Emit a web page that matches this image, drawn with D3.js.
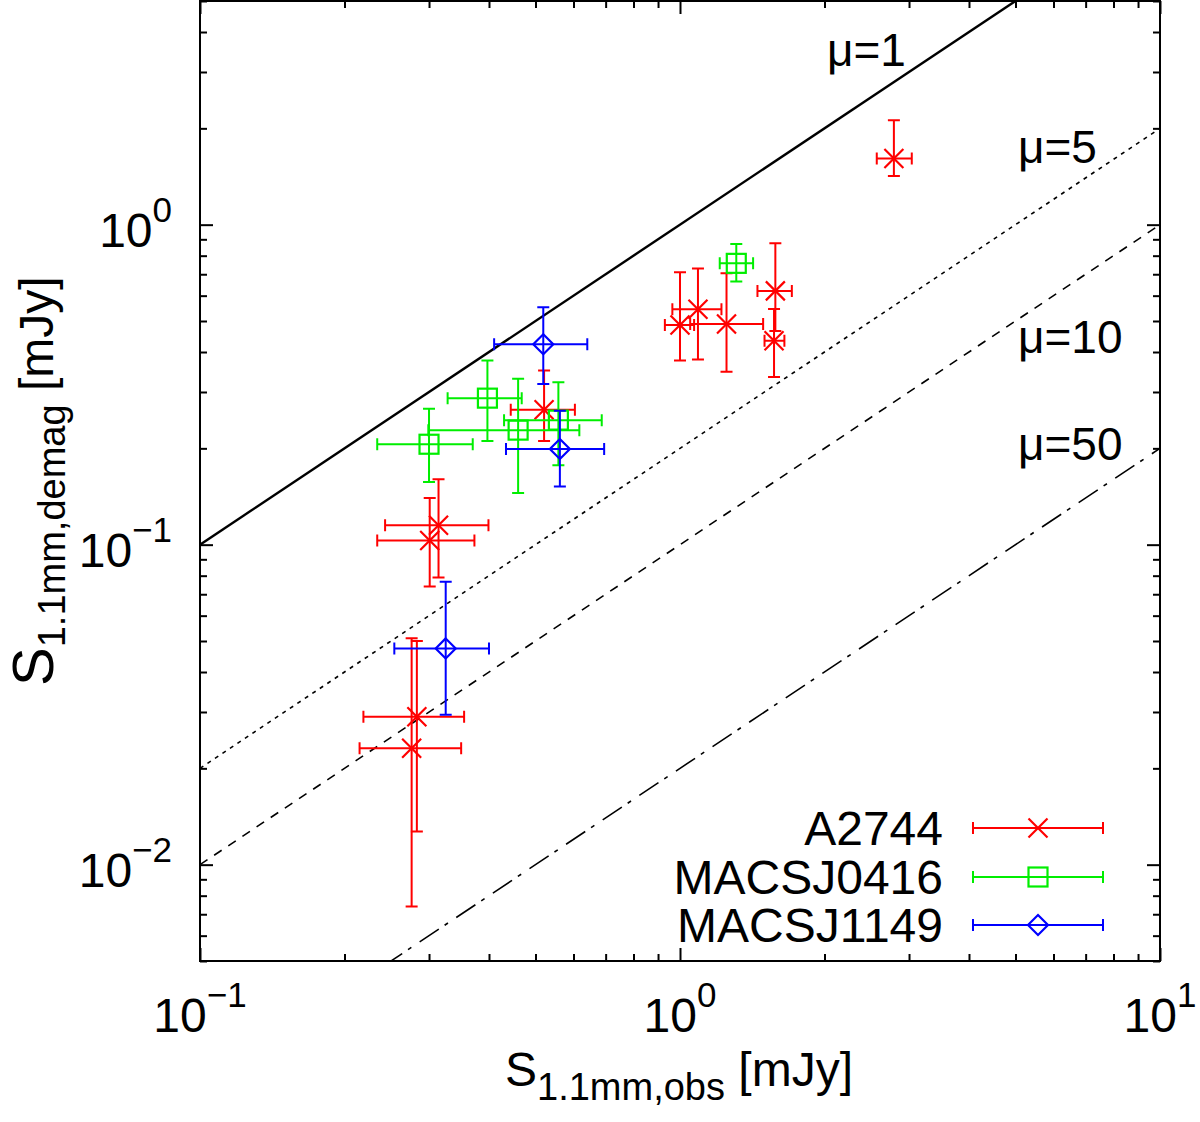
<!DOCTYPE html>
<html>
<head>
<meta charset="utf-8">
<script src="https://cdn.jsdelivr.net/npm/d3@7"></script>
<style>
  html, body { margin: 0; padding: 0; background: #fff; }
  svg { display: block; }
  text { font-family: "Liberation Sans", Arial, Helvetica, sans-serif; fill: #000; }
</style>
</head>
<body>
<div id="chart"></div>
<script>
// ---------------- DATA ----------------
const seriesNames = ["A2744", "MACSJ0416", "MACSJ1149"];
const seriesColors = ["#ff0000", "#00ee00", "#0000ff"];
const seriesMarkers = ["x", "square", "diamond"];

// A2744
const a2744_x   = [2.79, 1.00, 1.09, 1.25, 1.58, 1.57, 0.521, 0.314, 0.301, 0.283, 0.276];
const a2744_y   = [1.61, 0.486, 0.544, 0.489, 0.621, 0.434, 0.264, 0.115, 0.103, 0.029, 0.0231];
const a2744_xlo = [2.57, 0.93, 0.964, 1.05, 1.45, 1.50, 0.444, 0.243, 0.234, 0.219, 0.215];
const a2744_xhi = [3.04, 1.07, 1.22, 1.49, 1.71, 1.65, 0.604, 0.399, 0.373, 0.355, 0.350];
const a2744_ylo = [1.42, 0.376, 0.379, 0.347, 0.465, 0.334, 0.211, 0.079, 0.074, 0.0127, 0.0074];
const a2744_yhi = [2.12, 0.71, 0.73, 0.705, 0.875, 0.545, 0.35, 0.160, 0.140, 0.050, 0.051];

// MACSJ0416
const m0416_x   = [1.31, 0.397, 0.460, 0.558, 0.300];
const m0416_y   = [0.757, 0.287, 0.228, 0.245, 0.206];
const m0416_xlo = [1.21, 0.328, 0.299, 0.430, 0.234];
const m0416_xhi = [1.42, 0.468, 0.617, 0.687, 0.370];
const m0416_ylo = [0.664, 0.211, 0.145, 0.177, 0.157];
const m0416_yhi = [0.870, 0.376, 0.330, 0.322, 0.266];

// MACSJ1149
const m1149_x   = [0.519, 0.562, 0.325];
const m1149_y   = [0.423, 0.199, 0.0474];
const m1149_xlo = [0.410, 0.434, 0.254];
const m1149_xhi = [0.641, 0.695, 0.400];
const m1149_ylo = [0.318, 0.152, 0.0294];
const m1149_yhi = [0.552, 0.262, 0.0766];

// magnification lines  y = x / mu
const muValues = [1, 5, 10, 50];
const muLabels = ["μ=1", "μ=5", "μ=10", "μ=50"];
const muDash = [null, "4,5", "9,8", "23,7,4,10"];

// axis ticks
const xMajor = [0.1, 1, 10];
const xMajorExp = ["−1", "0", "1"];
const yMajor = [0.01, 0.1, 1];
const yMajorExp = ["−2", "−1", "0"];
const minorMult = [2, 3, 4, 5, 6, 7, 8, 9];

const xTitleMain = "S", xTitleSub = "1.1mm,obs", xTitleUnit = " [mJy]";
const yTitleMain = "S", yTitleSub = "1.1mm,demag", yTitleUnit = " [mJy]";

// ---------------- BUILD ----------------
function rows(xs, ys, xlo, xhi, ylo, yhi) {
  return xs.map((v, i) => ({x: v, y: ys[i], xlo: xlo[i], xhi: xhi[i], ylo: ylo[i], yhi: yhi[i]}));
}
const series = [
  rows(a2744_x, a2744_y, a2744_xlo, a2744_xhi, a2744_ylo, a2744_yhi),
  rows(m0416_x, m0416_y, m0416_xlo, m0416_xhi, m0416_ylo, m0416_yhi),
  rows(m1149_x, m1149_y, m1149_xlo, m1149_xhi, m1149_ylo, m1149_yhi)
];

const W = 1200, H = 1122;
const L = 200, R = 1160, T = 1, B = 961;

const x = d3.scaleLog().domain([0.1, 10]).range([L, R]);
const y = d3.scaleLog().domain([0.005, 5]).range([B, T]);

const svg = d3.select("#chart").append("svg").attr("width", W).attr("height", H);

svg.append("defs").append("clipPath").attr("id", "clip")
  .append("rect").attr("x", L).attr("y", T).attr("width", R - L).attr("height", B - T);

// minor ticks
function minorTicks(dom) {
  const out = [];
  for (let e = Math.floor(Math.log10(dom[0])); e <= Math.ceil(Math.log10(dom[1])); e++) {
    minorMult.forEach(m => {
      const v = m * Math.pow(10, e);
      if (v >= dom[0] * 0.9999 && v <= dom[1] * 1.0001) out.push(v);
    });
  }
  return out;
}
const xMinor = minorTicks(x.domain());
const yMinor = minorTicks(y.domain());

function styleAxis(g) {
  g.select(".domain").remove();
  g.selectAll(".tick line").attr("stroke", "#000").attr("stroke-width", 2);
  g.selectAll(".tick text").remove();
}
const axes = svg.append("g");
[[xMajor, 13], [xMinor, 7]].forEach(([vals, len]) => {
  axes.append("g").attr("transform", `translate(0,${B})`)
    .call(d3.axisBottom(x).tickValues(vals).tickSize(-len).tickFormat("")).call(styleAxis);
  axes.append("g").attr("transform", `translate(0,${T})`)
    .call(d3.axisTop(x).tickValues(vals).tickSize(-len).tickFormat("")).call(styleAxis);
});
[[yMajor, 13], [yMinor, 7]].forEach(([vals, len]) => {
  axes.append("g").attr("transform", `translate(${L},0)`)
    .call(d3.axisLeft(y).tickValues(vals).tickSize(-len).tickFormat("")).call(styleAxis);
  axes.append("g").attr("transform", `translate(${R},0)`)
    .call(d3.axisRight(y).tickValues(vals).tickSize(-len).tickFormat("")).call(styleAxis);
});

// magnification lines
const plot = svg.append("g").attr("clip-path", "url(#clip)");
const lineGen = d3.line().x(d => x(d[0])).y(d => y(d[1]));
muValues.forEach((mu, i) => {
  const pts = x.domain().map(v => [v, v / mu]);
  plot.append("path").attr("d", lineGen(pts))
    .attr("fill", "none").attr("stroke", "#000")
    .attr("stroke-width", i === 0 ? 2.4 : 1.6)
    .attr("stroke-dasharray", muDash[i]);
});

// mu labels
const muLabelPos = [[827, 66], [1018, 163], [1018, 353], [1018, 460]];
muLabels.forEach((t, i) => {
  svg.append("text").attr("x", muLabelPos[i][0]).attr("y", muLabelPos[i][1])
    .attr("font-size", 46).text(t);
});

// markers
const CAP = 6, MS = 9.5;
function drawMarker(g, type, cx, cy, color) {
  if (type === "x") {
    g.append("path").attr("d", `M${cx - MS},${cy - MS}L${cx + MS},${cy + MS}M${cx - MS},${cy + MS}L${cx + MS},${cy - MS}`)
      .attr("stroke", color).attr("stroke-width", 2.2).attr("fill", "none");
  } else if (type === "square") {
    g.append("rect").attr("x", cx - MS).attr("y", cy - MS).attr("width", 2 * MS).attr("height", 2 * MS)
      .attr("stroke", color).attr("stroke-width", 2.2).attr("fill", "none");
  } else {
    const r = MS + 0.5;
    g.append("path").attr("d", `M${cx},${cy - r}L${cx + r},${cy}L${cx},${cy + r}L${cx - r},${cy}Z`)
      .attr("stroke", color).attr("stroke-width", 2.2).attr("fill", "none");
  }
}

series.forEach((data, si) => {
  const color = seriesColors[si];
  const g = plot.append("g");
  data.forEach(d => {
    const cx = x(d.x), cy = y(d.y);
    const x0 = x(d.xlo), x1 = x(d.xhi), y0 = y(d.ylo), y1 = y(d.yhi);
    const p = `M${x0},${cy}L${x1},${cy}` +
              `M${x0},${cy - CAP}L${x0},${cy + CAP}M${x1},${cy - CAP}L${x1},${cy + CAP}` +
              `M${cx},${y0}L${cx},${y1}` +
              `M${cx - CAP},${y0}L${cx + CAP},${y0}M${cx - CAP},${y1}L${cx + CAP},${y1}`;
    g.append("path").attr("d", p).attr("stroke", color).attr("stroke-width", 2).attr("fill", "none");
    drawMarker(g, seriesMarkers[si], cx, cy, color);
  });
});

// frame
svg.append("rect").attr("x", L).attr("y", T).attr("width", R - L).attr("height", B - T)
  .attr("fill", "none").attr("stroke", "#000").attr("stroke-width", 2);

// tick labels
xMajor.forEach((v, i) => {
  const t = svg.append("text").attr("x", x(v)).attr("y", 1032).attr("text-anchor", "middle").attr("font-size", 48);
  t.append("tspan").text("10");
  t.append("tspan").attr("dy", -25).attr("font-size", 35).text(xMajorExp[i]);
});
yMajor.forEach((v, i) => {
  const t = svg.append("text").attr("x", 172).attr("y", y(v) + 22).attr("text-anchor", "end").attr("font-size", 48);
  t.append("tspan").text("10");
  t.append("tspan").attr("dy", -25).attr("font-size", 35).text(yMajorExp[i]);
});

// axis titles
const xt = svg.append("text").attr("x", 505).attr("y", 1086).attr("font-size", 48);
xt.append("tspan").text(xTitleMain);
xt.append("tspan").attr("dy", 14).attr("font-size", 38).text(xTitleSub);
xt.append("tspan").attr("dy", -14).text(xTitleUnit);

const yt = svg.append("text").attr("transform", "translate(53,686) rotate(-90)").attr("font-size", 48);
yt.append("tspan").attr("font-size", 58).text(yTitleMain);
yt.append("tspan").attr("dy", 12).attr("font-size", 38).text(yTitleSub);
yt.append("tspan").attr("dy", -12).text(yTitleUnit);

// legend
const legY = [828, 877, 925];
seriesNames.forEach((name, i) => {
  const gy = legY[i], color = seriesColors[i];
  svg.append("text").attr("x", 943).attr("y", gy + 17).attr("text-anchor", "end")
    .attr("font-size", 48).text(name);
  const x0 = 973, x1 = 1103;
  svg.append("path")
    .attr("d", `M${x0},${gy}L${x1},${gy}M${x0},${gy - CAP}L${x0},${gy + CAP}M${x1},${gy - CAP}L${x1},${gy + CAP}`)
    .attr("stroke", color).attr("stroke-width", 2).attr("fill", "none");
  drawMarker(svg, seriesMarkers[i], 1038, gy, color);
});
</script>
</body>
</html>
